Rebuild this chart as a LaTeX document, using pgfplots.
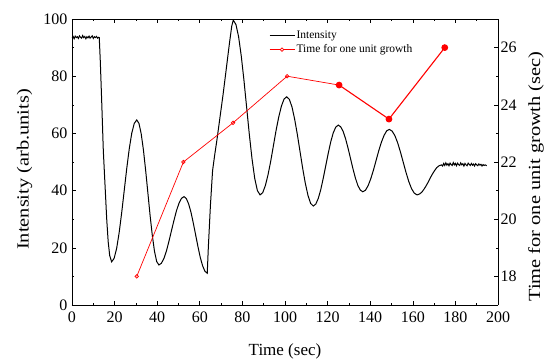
\documentclass[border=0pt]{standalone}
\usepackage{pgfplots}
\pgfplotsset{compat=1.18}
\usepackage{fontspec}
\setmainfont{Liberation Serif}
\begin{document}
\begin{tikzpicture}
\useasboundingbox (-72pt,-55pt) rectangle (477pt,305pt);
\pgfplotsset{
  every axis/.append style={
    scale only axis, width=426pt, height=286pt,
    /pgf/number format/assume math mode=true,
    tick label style={font=\fontsize{16}{18}\selectfont},
    tick align=inside, major tick length=4pt, minor tick length=2pt,
    axis line style={line width=0.8pt}, every tick/.style={line width=0.6pt, black},
  }
}
\begin{axis}[
  at={(0,0)}, anchor=south west,
  xmin=0, xmax=200, ymin=0, ymax=100,
  xtick={0,20,...,200}, minor x tick num=1,
  ytick={0,20,...,100}, minor y tick num=1,
  axis y line*=left,
  xlabel={Time (sec)}, ylabel={Intensity (arb.units)},
  every axis x label/.style={at={(axis description cs:0.5,0)}, anchor=base, yshift=-50pt, font=\fontsize{17}{19}\selectfont},
  every axis y label/.style={at={(axis description cs:0,0.474)}, anchor=center, xshift=-47.5pt, rotate=90, xscale=1.2, font=\fontsize{17}{19}\selectfont},
  xticklabel style={yshift=-3pt},
  yticklabel style={xshift=-1pt},
  xtick pos=both,
]
\addplot[black, line width=1pt] coordinates {
(0,93.4) (0.5,93.9) (1,93.1) (1.5,94.0) (2,93.5) (2.5,93.8) (3,93.2) (3.5,94.1) (4,93.6) (4.5,93.3) (5,94.2) (5.5,93.5) (6,93.9) (6.5,93.1) (7,93.8) (7.5,93.4) (8,94.0) (8.5,93.3) (9,93.7) (9.5,94.1) (10,93.2) (10.5,93.8) (11,93.5) (11.5,93.9) (12,93.3) (12.5,93.6) (12.8,93.5)
(13.3,85) (14,70) (14.7,54) (15.5,42) (16.3,30) (17,22) (17.7,17.3) (18.6,15.1)
(19.78,16.3) (20.96,19.8) (22.14,25.3) (23.32,32.2) (24.5,39.9) (25.68,47.6) (26.86,54.5) (28.04,60.0) (29.22,63.5) (30.4,64.7)
(31.44,63.5) (32.48,59.9) (33.52,54.3) (34.56,47.2) (35.6,39.4) (36.64,31.5) (37.68,24.5) (38.72,18.8) (39.76,15.2) (40.8,14.0)
(41.98,14.6) (43.16,16.3) (44.34,18.9) (45.52,22.3) (46.7,26.0) (47.88,29.6) (49.06,33.0) (50.24,35.6) (51.42,37.3) (52.6,37.9)
(53.69,37.2) (54.78,35.3) (55.87,32.4) (56.96,28.6) (58.05,24.5) (59.14,20.4) (60.23,16.6) (61.32,13.7) (62.41,11.8) (63.5,11.1)
(64,20) (65,35) (66,47) (67,52.5) (68,57.5) (69,63) (70,68.5) (71,74) (72,80) (73,86) (74,92) (75,97.5) (75.7,99.6)
(76.96,98.1) (78.22,93.8) (79.48,87.0) (80.74,78.5) (82.0,69.05) (83.26,59.6) (84.52,51.1) (85.78,44.3) (87.04,40.0) (88.3,38.5)
(89.55,39.3) (90.8,41.8) (92.05,45.6) (93.3,50.3) (94.55,55.65) (95.8,61.0) (97.05,65.7) (98.3,69.5) (99.55,72.0) (100.8,72.8)
(102.05,71.9) (103.3,69.2) (104.55,64.9) (105.8,59.6) (107.05,53.7) (108.3,47.8) (109.55,42.5) (110.8,38.3) (112.05,35.5) (113.3,34.6)
(114.47,35.3) (115.64,37.3) (116.81,40.4) (117.98,44.4) (119.15,48.75) (120.32,53.1) (121.49,57.1) (122.66,60.2) (123.83,62.2) (125,62.9)
(126.15,62.3) (127.3,60.7) (128.45,58.1) (129.6,54.85) (130.75,51.25) (131.9,47.65) (133.05,44.4) (134.2,41.8) (135.35,40.2) (136.5,39.6)
(137.75,40.1) (139.0,41.7) (140.25,44.1) (141.5,47.1) (142.75,50.5) (144.0,53.9) (145.25,56.9) (146.5,59.3) (147.75,60.9) (149,61.4)
(150.3,60.8) (151.6,59.2) (152.9,56.7) (154.2,53.5) (155.5,49.95) (156.8,46.4) (158.1,43.2) (159.4,40.7) (160.7,39.1) (162,38.5)
(163.15,38.8) (164.3,39.5) (165.45,40.7) (166.6,42.1) (167.75,43.75) (168.9,45.4) (170.05,46.8) (171.2,48.0) (172.35,48.7) (173.5,49.0)
(174,48.6) (174.5,49.5) (175,48.8) (175.5,49.7) (176,48.9) (176.5,49.4) (177,48.7) (177.5,49.6) (178,49.1) (178.5,48.8) (179,49.8)
(179.5,49.0) (180,49.5) (180.5,48.7) (181,49.6) (181.5,49.1) (182,48.8) (182.5,49.7) (183,49.0) (183.5,49.4) (184,48.6) (184.5,49.5)
(185,49.0) (185.5,48.7) (186,49.6) (186.5,49.2) (187,48.8) (187.5,49.5) (188,48.9) (188.5,49.3) (189,48.6) (189.5,49.4) (190,49.0)
(190.5,48.7) (191,49.3) (191.5,48.9) (192,49.2) (192.5,48.6) (193,49.1) (193.5,48.8) (194,49.0) (194.7,48.7)
};
\end{axis}
\begin{axis}[
  at={(0,0)}, anchor=south west,
  xmin=0, xmax=200, ymin=17, ymax=27,
  axis x line=none, axis y line*=right,
  ytick={18,20,...,26}, minor y tick num=1,
  yticklabel style={xshift=-1pt},
  ylabel={Time for one unit growth (sec)},
  every axis y label/.style={at={(axis description cs:1,0.449)}, anchor=center, xshift=38pt, rotate=90, xscale=1.2, font=\fontsize{17}{19}\selectfont},
  legend style={at={(rel axis cs:0.462,0.965)}, anchor=north west, draw=none, fill=none, inner sep=0pt,
    font=\fontsize{11.5}{13}\selectfont, row sep=2pt, nodes={inner sep=1.5pt}},
  legend cell align=left,
]
\addlegendimage{legend image code/.code={\draw[black,line width=1pt] (0pt,0pt) -- (25pt,0pt);}}
\addlegendentry{Intensity}
\addlegendimage{legend image code/.code={\draw[red,line width=0.7pt] (0pt,0pt) -- (25pt,0pt); \draw[red,line width=0.7pt,fill=white] (12.5pt,0pt) circle (1.8pt);}}
\addlegendentry{Time for one unit growth}
\addplot[red, line width=0.7pt, mark=o, mark size=1.8pt, mark options={fill=white}, forget plot] coordinates {
(30.4,18.0) (52.3,22.0) (75.6,23.37) (101,25.0) (125.4,24.69)
};
\addplot[red, line width=1.1pt, mark=*, mark size=2.8pt, forget plot] coordinates {
(125.4,24.69) (148.8,23.5) (175,26.0)
};
\end{axis}
\end{tikzpicture}
\end{document}
